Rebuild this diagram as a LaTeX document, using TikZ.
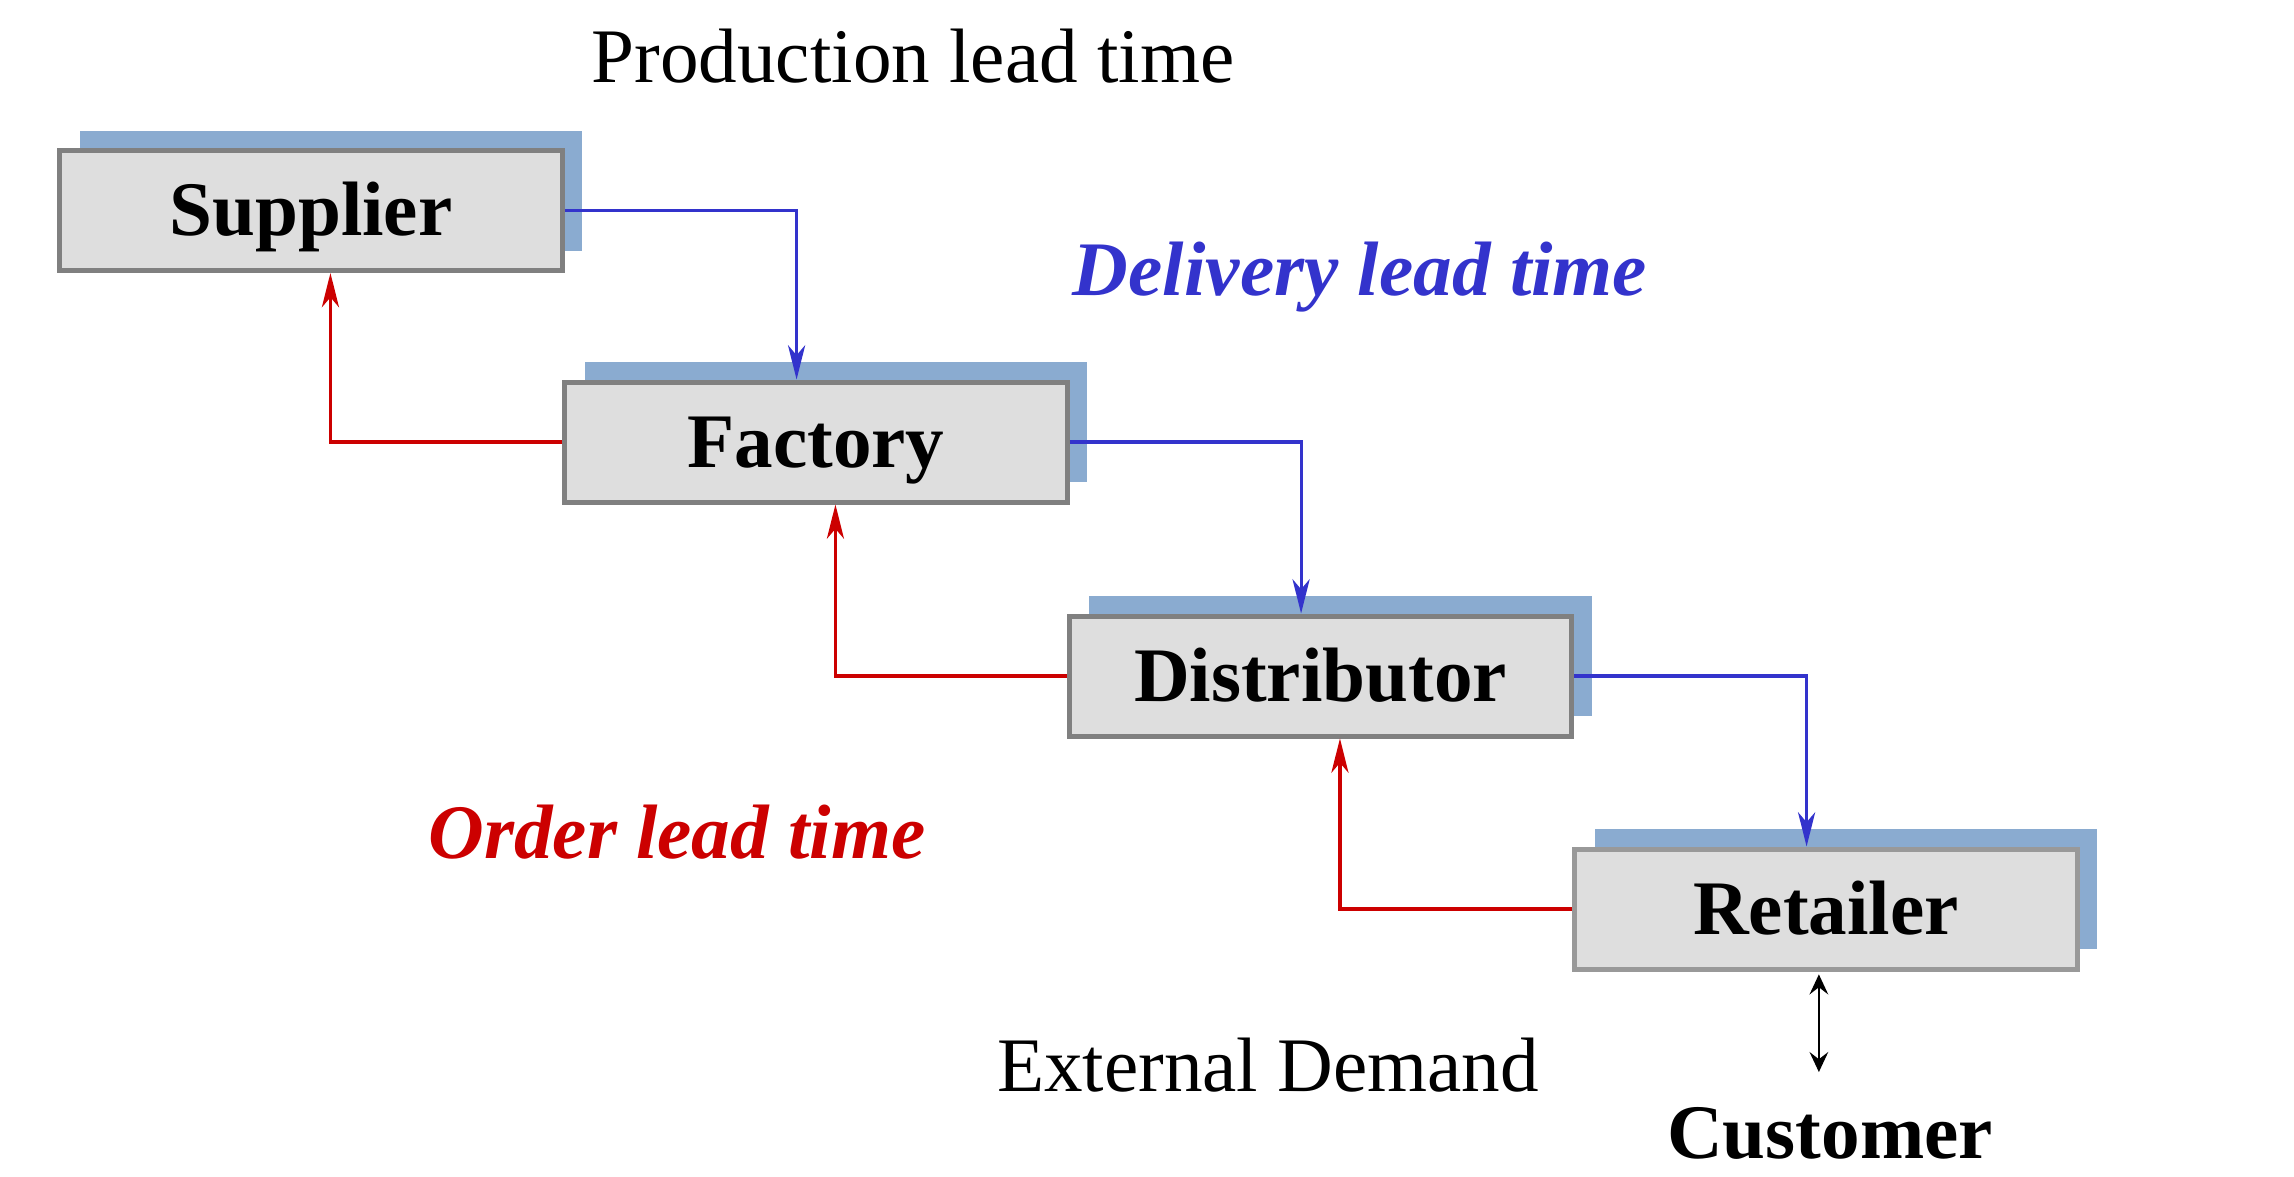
\documentclass[tikz,border=0pt]{standalone}
\usepackage{fontspec}
\setmainfont{Liberation Serif}
\usepackage{xcolor}
\usepackage{tikz}
\usetikzlibrary{arrows.meta}
\usetikzlibrary{shadows}
\definecolor{boxfill}{HTML}{DEDEDE}
\definecolor{boxline}{HTML}{808080}
\definecolor{boxshade}{HTML}{8AABD0}
\definecolor{delivblue}{HTML}{3333CC}
\definecolor{orderred}{HTML}{CC0000}
\newcommand{\bigtext}{\fontsize{27}{32}\selectfont}

\begin{document}
\begin{tikzpicture}[x=0.35pt,y=-0.35pt,
        stage/.style={draw=boxline,fill=boxfill,line width=1.75pt,minimum width=176pt,minimum height=42pt,inner sep=0pt,
            text height=17.8pt,text depth=0pt,font=\bigtext\bfseries,
            general shadow={shadow xshift=7pt,shadow yshift=7pt,fill=boxshade}},
        deliv/.style={draw=delivblue,line width=1.1pt,-{Stealth[length=12pt,width=6pt,inset=3.5pt]}},
        order/.style={draw=orderred,line width=1.1pt,-{Stealth[length=12pt,width=6pt,inset=3.5pt]}},
        label/.style={font=\bigtext,anchor=base,inner sep=0pt}]
        \useasboundingbox (0,0) rectangle (2294,1176);
        % the four stages
        \node[stage] (sup) at (311,210.5){Supplier};
        \node[stage] (fac) at (816,442){Factory};
        \node[stage] (dis) at (1320.5,676){Distributor};
        \node[stage,draw=boxline!80] (ret) at (1826,909){Retailer};
        % delivery flow
        \draw[deliv] (sup.east) -| ([xshift=-6.8pt]fac.north);
        \draw[deliv] (fac.east) -| ([xshift=-6.8pt]dis.north);
        \draw[deliv] (dis.east) -| ([xshift=-6.8pt]ret.north);
        % order flow
        \draw[order] (fac.west) -| ([xshift=6.8pt]sup.south);
        \draw[order] (dis.west) -| ([xshift=6.8pt]fac.south);
        \draw[order] (ret.west) -| ([xshift=6.8pt]dis.south);
        % texts
        \node[label] (prod) at (913,82){Production lead time};
        \node[label,text=delivblue,font=\bigtext\bfseries\itshape] (dlt) at (1360,295){Delivery lead time};
        \node[label,text=orderred,font=\bigtext\bfseries\itshape] (olt) at (677,858){Order lead time};
        \node[label] (ext) at (1268,1091){External Demand};
        \node[label,font=\bigtext\bfseries] (cust) at (1830,1158){Customer};
        \draw[line width=0.9pt,{Stealth[length=7pt,width=6.5pt,inset=2.5pt]}-{Stealth[length=7pt,width=6.5pt,inset=2.5pt]},shorten <=1pt,shorten >=12pt]
            ([xshift=-2.5pt]ret.south) -- ([xshift=-2.5pt]ret.south |- cust.north);
    \end{tikzpicture}
\end{document}
